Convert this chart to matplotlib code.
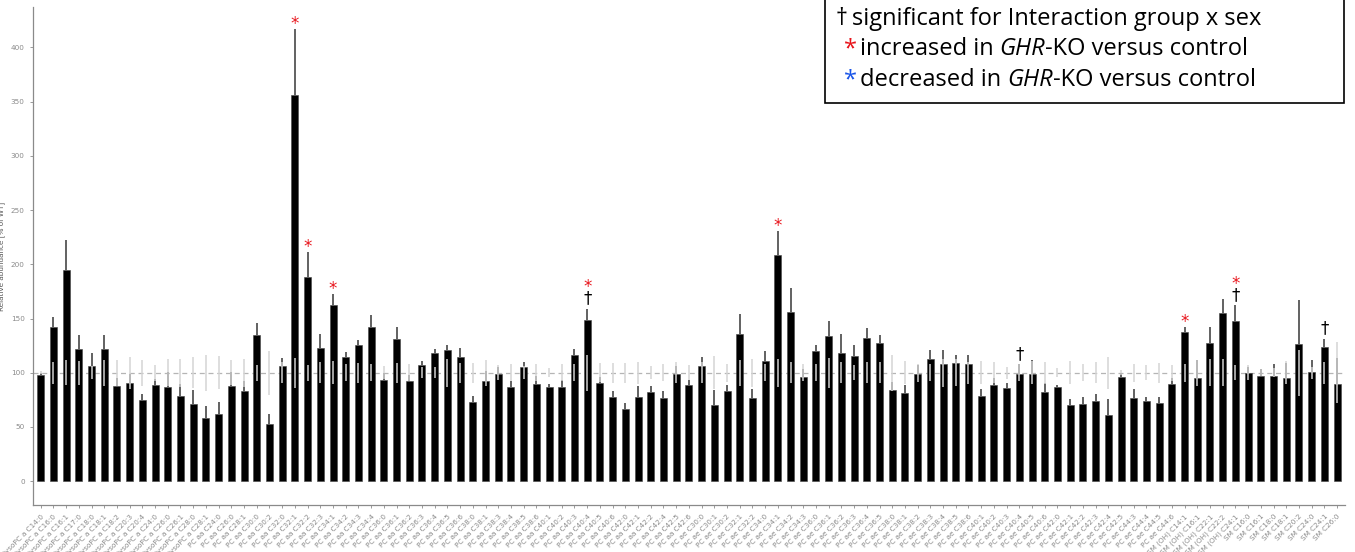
import matplotlib
matplotlib.use("Agg")
import matplotlib.pyplot as plt
import numpy as np
from matplotlib.patches import Rectangle

# ---- data ----
lyso = ["C14:0", "C16:0", "C16:1", "C17:0", "C18:0", "C18:1", "C18:2", "C20:3",
        "C20:4", "C24:0", "C26:0", "C26:1", "C28:0", "C28:1"]
pc_aa = ["C24:0", "C26:0", "C28:1", "C30:0", "C30:2", "C32:0", "C32:1", "C32:2",
         "C32:3", "C34:1", "C34:2", "C34:3", "C34:4", "C36:0", "C36:1", "C36:2",
         "C36:3", "C36:4", "C36:5", "C36:6", "C38:0", "C38:1", "C38:3", "C38:4",
         "C38:5", "C38:6", "C40:1", "C40:2", "C40:3", "C40:4", "C40:5", "C40:6",
         "C42:0", "C42:1", "C42:2", "C42:4", "C42:5", "C42:6"]
pc_ae = ["C30:0", "C30:1", "C30:2", "C32:1", "C32:2", "C34:0", "C34:1", "C34:2",
         "C34:3", "C36:0", "C36:1", "C36:2", "C36:3", "C36:4", "C36:5", "C38:0",
         "C38:1", "C38:2", "C38:3", "C38:4", "C38:5", "C38:6", "C40:1", "C40:2",
         "C40:3", "C40:4", "C40:5", "C40:6", "C42:0", "C42:1", "C42:2", "C42:3",
         "C42:4", "C42:5", "C44:3", "C44:4", "C44:5", "C44:6"]
sm_oh = ["C14:1", "C16:1", "C22:1", "C22:2", "C24:1"]
sm = ["C16:0", "C16:1", "C18:0", "C18:1", "C20:2", "C24:0", "C24:1", "C26:0"]

labels = (["lysoPC a " + s for s in lyso] + ["PC aa " + s for s in pc_aa]
          + ["PC ae " + s for s in pc_ae] + ["SM (OH) " + s for s in sm_oh]
          + ["SM " + s for s in sm])

ko_mean = [98, 142, 195, 122, 106, 122, 87.6, 90.6, 75.3, 88.5, 87, 78.7, 71, 58.7,
           62.4, 88, 83, 134.6, 52.5, 106, 356, 188, 123, 162, 114.6, 125.3, 142, 93.7,
           131.5, 92.5, 107.5, 118.6, 120.7, 114.6, 73, 92.5, 98.6, 87, 105.4, 90, 86.4,
           86.9, 116.7, 148.4, 91, 77.7, 67, 77.7, 82.3, 77.1, 98.6, 89,
           106, 70.7, 83.2, 135.5, 77.1, 110.6, 208.3, 155.8, 96, 120, 134, 118.6, 115.5,
           132.4, 127.5, 84.5, 81.7, 98.6, 112.4, 107.8, 109, 108.4, 78.3, 89, 86, 99.2,
           99.2, 82.3, 87, 70, 71, 74, 61.5, 96, 76.8, 73.7, 72.2, 90,
           137.6, 95.2, 127, 155.5, 147.7,
           99.8, 96.8, 97, 95.6, 126.9, 100.7, 123.8, 89.4]
ko_top = [100, 151, 222, 134.6, 118, 134.6, 95, 99, 80.8, 94, 101, 90, 84, 69,
          73, 100.7, 92.5, 145.6, 62.4, 113.7, 417, 211, 136, 173, 119, 130, 153, 99.8,
          142, 97.7, 111, 122.3, 125.3, 123, 79, 102, 105, 92.2, 110, 96.8, 90,
          93, 122.3, 159, 96, 83, 72.5, 87.6, 87.6, 83, 106, 93,
          114.6, 84.5, 89, 154, 85.4, 120, 231, 178, 103.8, 126, 148, 136, 126,
          141, 134.6, 91.5, 88.5, 107, 121.3, 121.3, 116.7, 116.7, 85.4, 95.5, 91, 107.8,
          112, 91, 88.6, 76, 77.7, 80.8, 75.6, 100, 85.4, 77.7, 77.7, 95.2,
          142, 112, 142.2, 168, 162.2,
          105.4, 103.8, 108.5, 109, 167, 112, 131.5, 114]
wt_err = [1.5, 10, 11.5, 11, 6, 12, 12, 14.6, 12, 7.5, 12.6, 13, 14.3, 16.5,
          15.4, 11.4, 13, 7.5, 20.4, 9.5, 14, 7.5, 9.5, 10.4, 8, 9, 7.7, 6,
          9, 8, 5, 5, 13, 9, 9, 12, 7, 8, 6, 8, 4,
          8, 8, 16.5, 8.7, 9, 9.2, 10, 6, 8, 9.5, 7,
          9.5, 15, 8.5, 11.8, 13, 8, 13, 9.5, 8, 8, 14, 9.8, 7,
          9.5, 9.5, 16.4, 10.7, 8.5, 8, 12.8, 12.5, 10, 10.5, 9.5, 5.4, 7.7,
          10.7, 10.3, 4, 10.4, 7.7, 9.5, 14.6, 2.3, 8.5, 7, 9, 7.2,
          8.5, 12, 12.5, 12.5, 7,
          7, 3, 4, 10.7, 21, 5.4, 10, 28]

increased = ["PC aa C32:1", "PC aa C32:2", "PC aa C34:1", "PC aa C40:4",
             "PC ae C34:1", "SM (OH) C14:1", "SM (OH) C24:1"]
interaction = ["PC aa C40:4", "PC ae C40:4", "SM (OH) C24:1", "SM C24:1"]

# ---- plot ----
fig = plt.figure(figsize=(13.55, 5.52), dpi=100)
ax = fig.add_axes([0.0244, 0.085, 0.968, 0.902])

x = np.arange(len(labels))
mean = np.array(ko_mean)
top = np.array(ko_top)

ax.axhline(100, color="#b5b5b5", lw=0.9, ls=(0, (4, 3)), zorder=1)
ax.bar(x, mean, width=0.55, color="black", edgecolor="#444444", linewidth=0.4, zorder=2)
ax.vlines(x, mean, top, color="#555555", lw=1.3, zorder=3)
ax.vlines(x, 100 - np.array(wt_err), 100 + np.array(wt_err),
          color="#d4d4d4", lw=1.2, alpha=0.9, zorder=4)

for i, lab in enumerate(labels):
    off = 1
    if lab in interaction:
        ax.annotate("\u2020", (i, top[i]), xytext=(0, off), textcoords="offset points",
                    ha="center", va="bottom", fontsize=12, color="black")
        off += 12
    if lab in increased:
        ax.annotate("*", (i, top[i]), xytext=(0, off - 4), textcoords="offset points",
                    ha="center", va="bottom", fontsize=12, color="#e8141b")

ax.set_xlim(-0.6, len(labels) - 0.4)
ax.set_ylim(-22, 437)
ax.set_yticks(range(0, 401, 50))
ax.set_xticks(x)
ax.set_xticklabels(labels, rotation=45, ha="right", rotation_mode="anchor",
                   fontsize=5.2, color="#8a8a8a")
ax.tick_params(axis="y", labelsize=5.2, labelcolor="#8a8a8a", color="#8a8a8a",
               length=2.5, width=0.6)
ax.tick_params(axis="x", color="#8a8a8a", length=2.5, width=0.6)
ax.set_ylabel("Relative abundance [% of WT]", fontsize=5.2, color="#555555", labelpad=4)
for s in ["top", "right"]:
    ax.spines[s].set_visible(False)
for s in ["left", "bottom"]:
    ax.spines[s].set_color("#8a8a8a")
    ax.spines[s].set_linewidth(0.9)

# legend box at top right
fig.patches.append(Rectangle((825 / 1355, 1 - 103 / 552), (1344 - 825) / 1355, 0.3,
                             transform=fig.transFigure, fill=True, facecolor="white",
                             edgecolor="black", lw=1.2, zorder=10))
fam = "Open Sans"
fs = 17
W = fig.bbox.width
rows = [(19, "black", 836, "\u2020", 852, ["significant for Interaction group x sex"]),
        (49, "#e8141b", 844, "*", 860, ["increased in ", "GHR", "-KO versus control"]),
        (80, "#1a55e8", 844, "*", 860, ["decreased in ", "GHR", "-KO versus control"])]
for ypx, col, xs, sym, xt, parts in rows:
    yf = 1 - ypx / 552
    fig.text(xs / W, yf, sym, color=col, fontsize=fs, family=fam, va="center", zorder=11)
    cur = xt
    for p in parts:
        t = fig.text(cur / W, yf, p, fontsize=fs, family=fam, va="center",
                     style="italic" if p == "GHR" else "normal", zorder=11)
        fig.canvas.draw()
        cur = t.get_window_extent().x1

fig.savefig("out.png", dpi=100)
